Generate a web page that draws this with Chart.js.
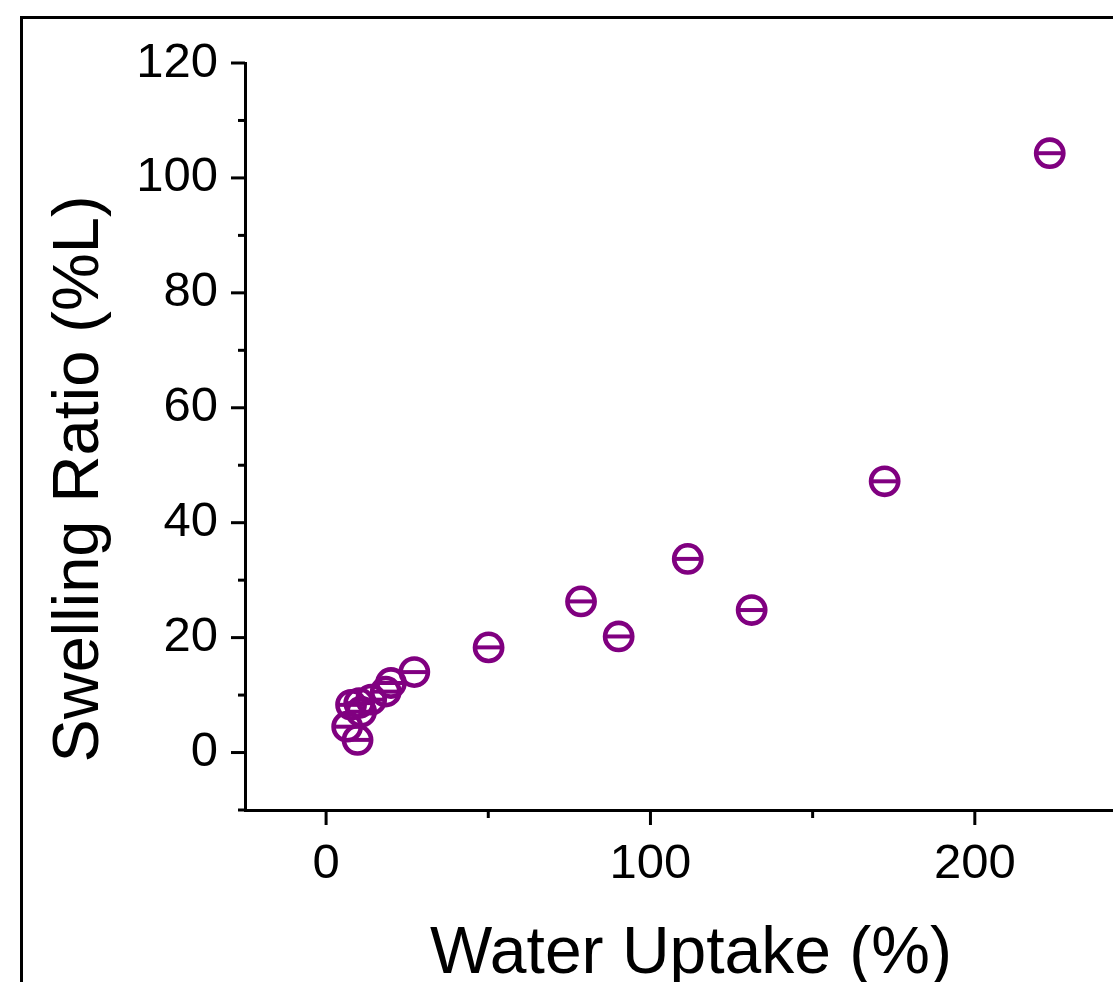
<!DOCTYPE html>
<html>
<head>
<meta charset="utf-8">
<script src="https://cdn.jsdelivr.net/npm/chart.js@4/dist/chart.umd.min.js"></script>
<style>
  html, body { margin: 0; padding: 0; background: #fff; overflow: hidden; width: 1113px; height: 982px; }
  #wrap { position: relative; width: 1113px; height: 982px; overflow: hidden; }
  #frame { position: absolute; left: 20px; top: 16px; width: 1200px; height: 1100px; border: 3px solid #000; box-sizing: border-box; }
  canvas { position: absolute; left: 0; top: 0; }
</style>
</head>
<body>
<div id="wrap">
  <div id="frame"></div>
  <canvas id="c" width="1160" height="1000"></canvas>
</div>
<script>
// Data
const waterUptake   = [223.1, 172.2, 111.5, 131.2, 78.6, 90.2, 50.1, 27.2, 20.0, 18.4, 7.7, 10.2, 10.8, 13.9, 6.5, 9.7];
const swellingRatio = [104.3, 47.2, 33.7, 24.8, 26.3, 20.2, 18.3, 14.0, 12.1, 10.6, 8.3, 8.6, 7.1, 9.2, 4.5, 2.2];
const xMajorTicks = [0, 100, 200];
const xMinorTicks = [50, 150, 250];
const yMajorTicks = [0, 20, 40, 60, 80, 100, 120];
const yMinorTicks = [-10, 10, 30, 50, 70, 90, 110];
const xTitle = 'Water Uptake (%)';
const yTitle = 'Swelling Ratio (%L)';

const COLOR = '#800080';
const FONT = '"Liberation Sans", Arial, sans-serif';

const points = waterUptake.map((x, i) => ({ x: x, y: swellingRatio[i] }));

const tickPlugin = {
  id: 'ticksAndTitles',
  afterDraw(chart) {
    const ctx = chart.ctx;
    const xs = chart.scales.x, ys = chart.scales.y;
    const ca = chart.chartArea;
    ctx.save();
    ctx.strokeStyle = '#000';
    ctx.lineWidth = 3;
    ctx.lineCap = 'butt';
    const yAxisX = ca.left;
    const xAxisY = ca.bottom;
    yMajorTicks.forEach(v => {
      const p = ys.getPixelForValue(v);
      ctx.beginPath(); ctx.moveTo(yAxisX - 14, p); ctx.lineTo(yAxisX, p); ctx.stroke();
    });
    yMinorTicks.forEach(v => {
      const p = ys.getPixelForValue(v);
      ctx.beginPath(); ctx.moveTo(yAxisX - 7, p); ctx.lineTo(yAxisX, p); ctx.stroke();
    });
    xMajorTicks.forEach(v => {
      const p = xs.getPixelForValue(v);
      ctx.beginPath(); ctx.moveTo(p, xAxisY); ctx.lineTo(p, xAxisY + 15); ctx.stroke();
    });
    xMinorTicks.forEach(v => {
      const p = xs.getPixelForValue(v);
      ctx.beginPath(); ctx.moveTo(p, xAxisY); ctx.lineTo(p, xAxisY + 8); ctx.stroke();
    });
    // Axis titles
    ctx.fillStyle = '#000';
    ctx.font = '66px ' + FONT;
    ctx.textAlign = 'center';
    ctx.textBaseline = 'alphabetic';
    ctx.fillText(xTitle, (ca.left + ca.right) / 2, 973);
    ctx.translate(98, 479);
    ctx.rotate(-Math.PI / 2);
    ctx.font = '65px ' + FONT;
    ctx.fillText(yTitle, 0, 0);
    ctx.restore();
  }
};

new Chart(document.getElementById('c'), {
  type: 'scatter',
  data: {
    datasets: [{
      data: points,
      pointStyle: 'circle',
      pointRadius: 13.6,
      pointHoverRadius: 13.6,
      pointBorderWidth: 4.6,
      pointHoverBorderWidth: 4.6,
      pointBackgroundColor: 'rgba(0,0,0,0)',
      pointBorderColor: COLOR
    }, {
      data: points,
      pointStyle: 'line',
      pointRadius: 13,
      pointHoverRadius: 13,
      pointBorderWidth: 4,
      pointHoverBorderWidth: 4,
      pointBackgroundColor: COLOR,
      pointBorderColor: COLOR
    }]
  },
  options: {
    responsive: false,
    animation: false,
    devicePixelRatio: 1,
    events: [],
    layout: { padding: { top: 63, right: 23, left: 0, bottom: 0 } },
    plugins: { legend: { display: false }, tooltip: { enabled: false } },
    scales: {
      x: {
        type: 'linear',
        min: -25, max: 250,
        afterFit: s => { s.height = 190; },
        afterBuildTicks: s => { s.ticks = xMajorTicks.map(v => ({ value: v })); },
        grid: { display: true, drawOnChartArea: false, drawTicks: false, color: 'rgba(0,0,0,0)' },
        border: { display: true, color: '#000', width: 3 },
        ticks: {
          autoSkip: false,
          maxRotation: 0,
          padding: 25,
          color: '#000',
          font: { family: FONT, size: 49 },
          callback: v => String(v)
        }
      },
      y: {
        type: 'linear',
        min: -10, max: 120,
        afterFit: s => { s.width = 245; },
        afterBuildTicks: s => { s.ticks = yMajorTicks.map(v => ({ value: v })); },
        grid: { display: true, drawOnChartArea: false, drawTicks: false, color: 'rgba(0,0,0,0)' },
        border: { display: true, color: '#000', width: 3 },
        ticks: {
          autoSkip: false,
          padding: 27,
          color: '#000',
          font: { family: FONT, size: 49 },
          callback: v => String(v)
        }
      }
    }
  },
  plugins: [tickPlugin]
});
</script>
</body>
</html>
